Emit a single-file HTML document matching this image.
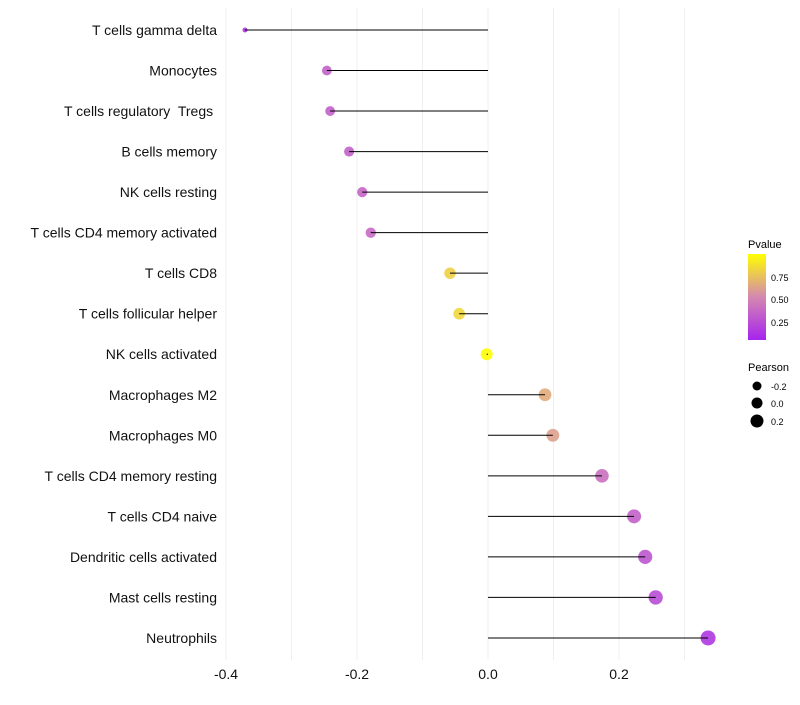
<!DOCTYPE html>
<html><head><meta charset="utf-8"><style>
body{margin:0;background:#fff;}
svg text{font-family:"Liberation Sans",sans-serif;white-space:pre;}
</style></head><body>
<svg id="chart" width="800" height="700">
<defs><linearGradient id="pg" x1="0" y1="1" x2="0" y2="0">
<stop offset="0" stop-color="#a624ee"/><stop offset="0.5" stop-color="#d488b0"/><stop offset="1" stop-color="#ffff00"/>
</linearGradient></defs>
<g id="grid"></g><g id="marks"></g><g id="labels"></g>
<g>
<text x="748" y="248" font-size="11">Pvalue</text>
<rect x="748" y="254" width="18" height="86" fill="url(#pg)"/>
<text x="771" y="281" font-size="9">0.75</text>
<text x="771" y="303" font-size="9">0.50</text>
<text x="771" y="326" font-size="9">0.25</text>
</g>
<g>
<text x="748" y="371" font-size="11">Pearson</text>
<circle cx="757" cy="386" r="4.5" fill="#000"/><text x="771" y="390" font-size="9">-0.2</text>
<circle cx="757" cy="403" r="5.5" fill="#000"/><text x="771" y="407" font-size="9">0.0</text>
<circle cx="757" cy="421" r="6.5" fill="#000"/><text x="771" y="425" font-size="9">0.2</text>
</g>
</svg>
<script>
const categories=["T cells gamma delta","Monocytes","T cells regulatory  Tregs ","B cells memory","NK cells resting","T cells CD4 memory activated","T cells CD8","T cells follicular helper","NK cells activated","Macrophages M2","Macrophages M0","T cells CD4 memory resting","T cells CD4 naive","Dendritic cells activated","Mast cells resting","Neutrophils"];
const pearson=[-0.371,-0.246,-0.241,-0.212,-0.192,-0.179,-0.058,-0.044,-0.002,0.087,0.099,0.174,0.223,0.240,0.256,0.336];
const pvalues=[0.08,0.3,0.3,0.3,0.33,0.35,0.8,0.83,0.99,0.65,0.6,0.38,0.3,0.25,0.2,0.1];
const xTicks=[-0.4,-0.2,0.0,0.2];
const xTickLabels=["-0.4","-0.2","0.0","0.2"];
const xMinor=[-0.3,-0.1,0.1,0.3];
const NS="http://www.w3.org/2000/svg";
const x=v=>488+v*655;
const y=i=>30+i*40.53;
function mk(t,a,p){const e=document.createElementNS(NS,t);for(const k in a)e.setAttribute(k,a[k]);p.appendChild(e);return e;}
function lerp(a,b,t){return Math.round(a+(b-a)*t);}
function col(p){const s=[[166,36,238],[212,136,176],[255,255,0]];let t=p*2,i=t<1?0:1;t=t-i;if(t>1)t=1;const a=s[i],b=s[i+1];return `rgb(${lerp(a[0],b[0],t)},${lerp(a[1],b[1],t)},${lerp(a[2],b[2],t)})`;}
const G=document.getElementById('grid'),M=document.getElementById('marks'),L=document.getElementById('labels');
xTicks.concat(xMinor).forEach(v=>{const l=mk('line',{x1:x(v),x2:x(v),y1:8,y2:660,stroke:'#efefef','stroke-width':1},G);

});
xTicks.forEach((v,i)=>{const t=mk('text',{x:x(v),y:679,'font-size':14,'text-anchor':'middle',fill:'#111'},L);t.textContent=xTickLabels[i];

});
categories.forEach((c,i)=>{
const t=mk('text',{x:217,y:y(i)+5,'font-size':14,'text-anchor':'end',fill:'#111'},L);t.textContent=c;


const v=pearson[i];
const r=v<-0.3?2.5:6+4.5*v;
const cc=mk('circle',{cx:x(v),cy:y(i),r:r,fill:col(pvalues[i]),'fill-opacity':0.9},M);


const ln=mk('line',{x1:x(0),x2:x(v),y1:y(i),y2:y(i),stroke:'#000','stroke-width':1},M);


});
</script>
</body></html>
